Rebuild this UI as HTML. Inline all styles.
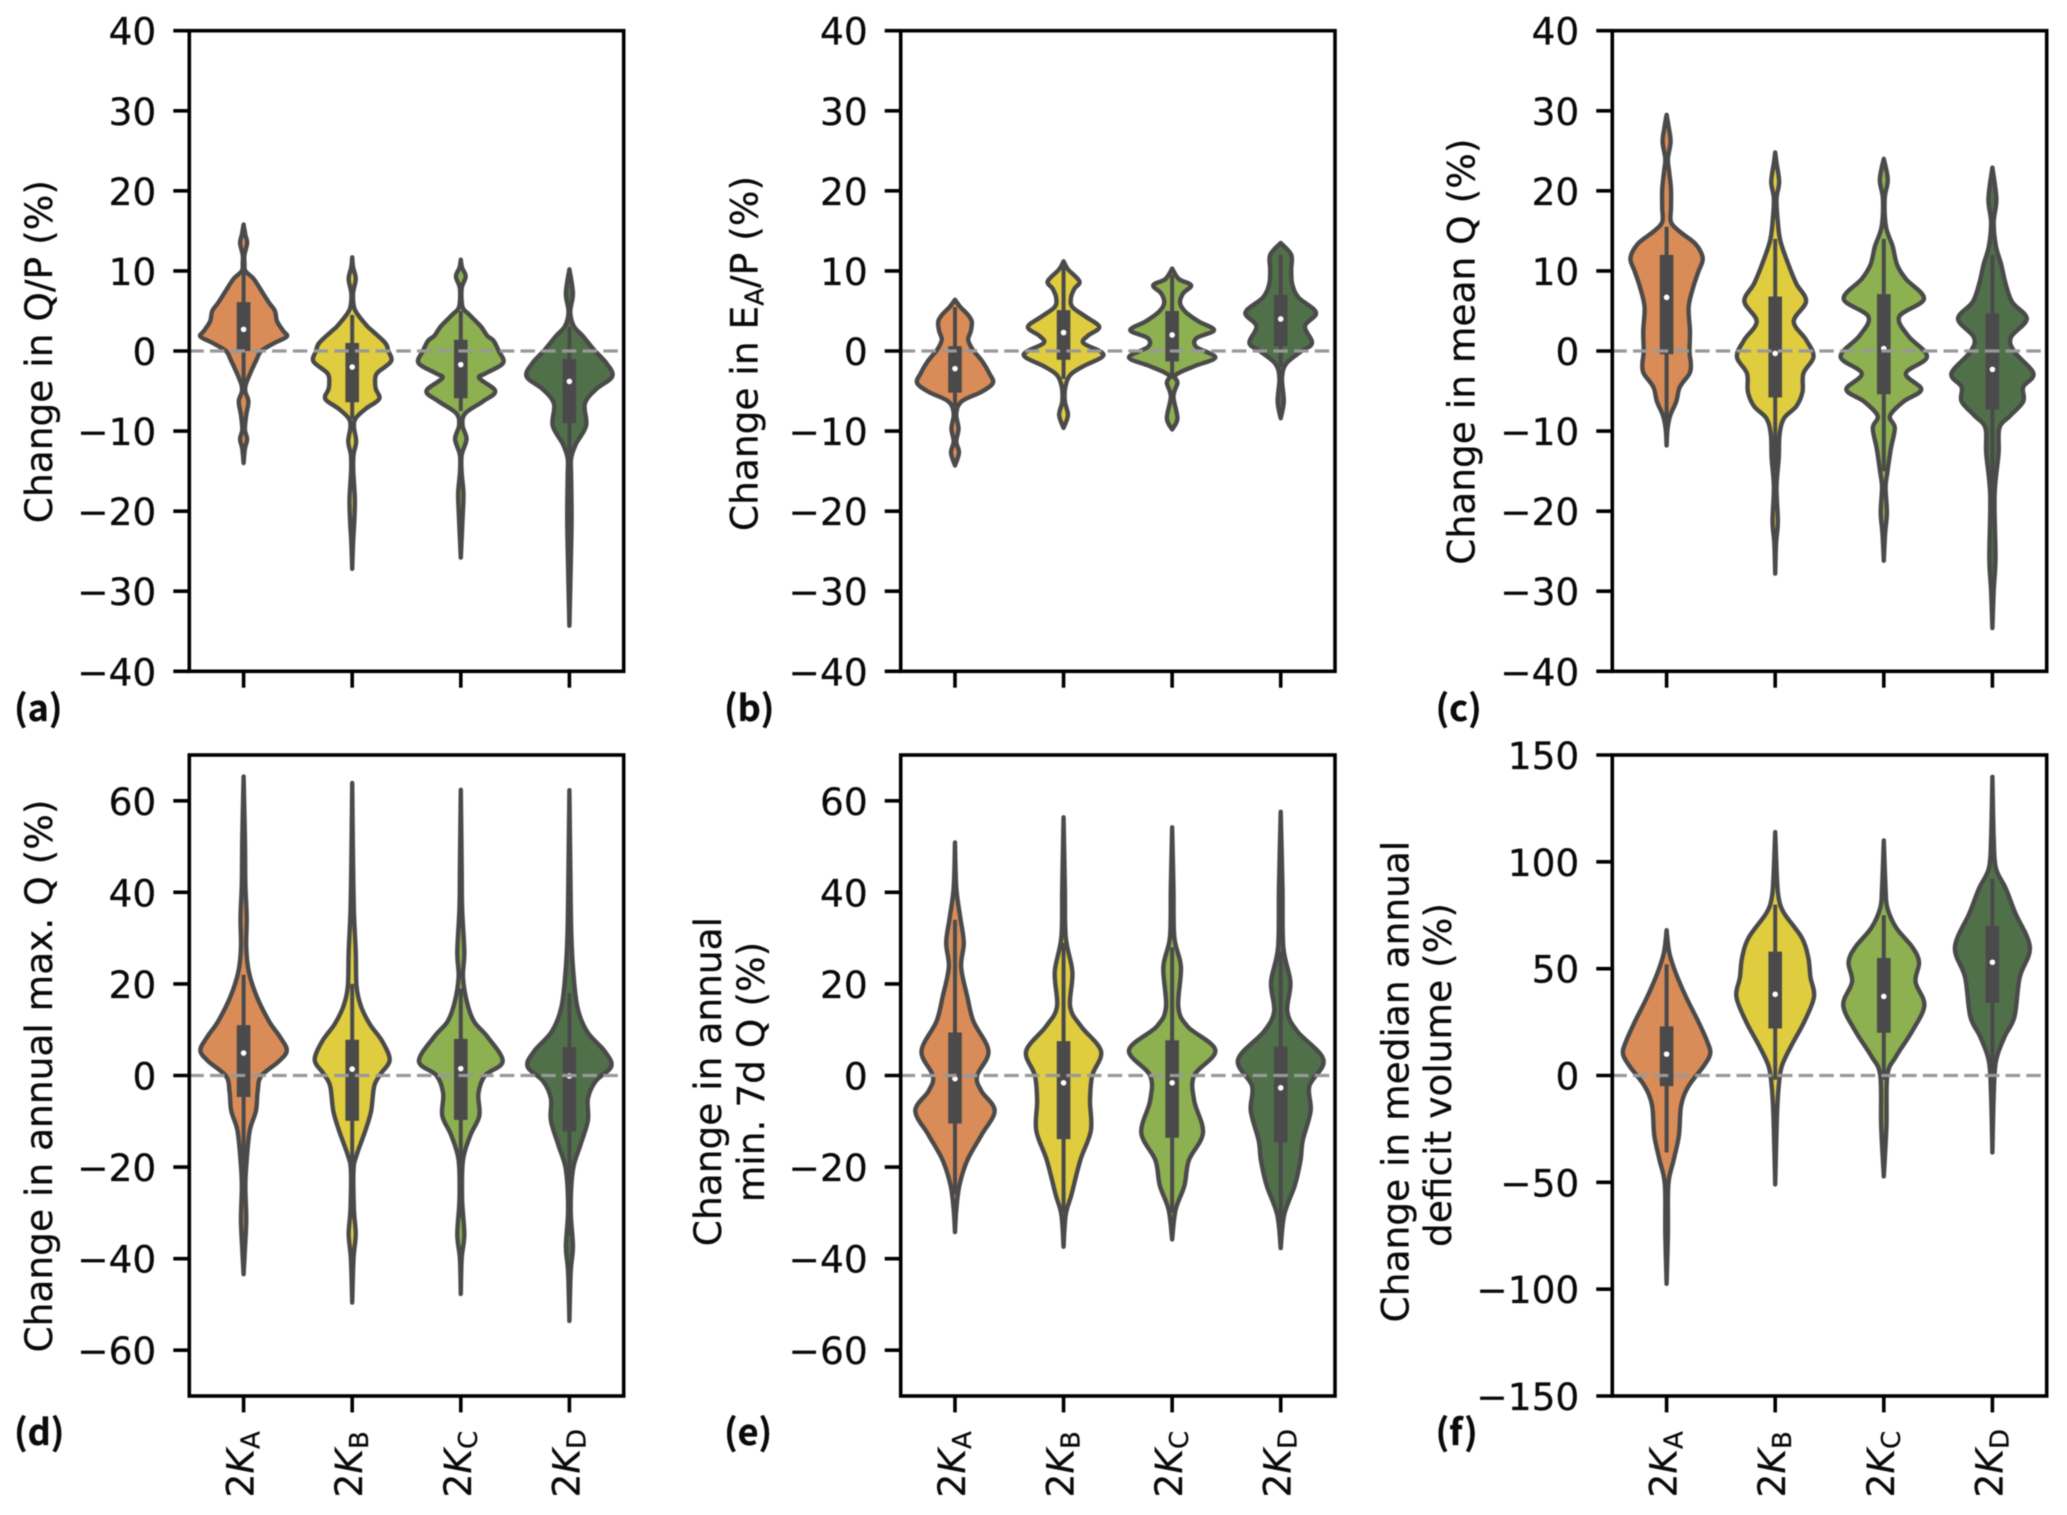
<!DOCTYPE html>
<html lang="en">
<head>
<meta charset="utf-8">
<title>Change in hydrological signatures under 2K scenarios</title>
<style>
html,body{margin:0;padding:0;background:#fff;}
svg{display:block;filter:blur(0.45px);}
text{font-family:"DejaVu Sans","Liberation Sans",sans-serif;fill:#0a0a0a;stroke:#0a0a0a;stroke-width:0.25px;}
.t{font-size:37.5px;}
.p{font-family:"Noto Sans CJK JP","Liberation Sans",sans-serif;font-weight:bold;font-size:36px;}
</style>
</head>
<body>
<svg id="fig" xmlns="http://www.w3.org/2000/svg" width="2067" height="1515" viewBox="0 0 2067 1515">
<rect width="2067" height="1515" fill="#fff"/>
<g id="plots"></g>
<text class="t" text-anchor="middle" transform="translate(52 351.6) rotate(-90)">Change in Q/P (%)</text>
<text class="t" text-anchor="middle" transform="translate(757.3 353.5) rotate(-90)">Change in E<tspan font-size="26" dy="6">A</tspan><tspan dy="-6">/P (%)</tspan></text>
<text class="t" text-anchor="middle" transform="translate(1474.7 351.6) rotate(-90)">Change in mean Q (%)</text>
<text class="t" text-anchor="middle" transform="translate(52 1076) rotate(-90)">Change in annual max. Q (%)</text>
<text class="t" text-anchor="middle" transform="translate(720.8 1081.6) rotate(-90)">Change in annual</text>
<text class="t" text-anchor="middle" transform="translate(764 1072) rotate(-90)">min. 7d Q (%)</text>
<text class="t" text-anchor="middle" transform="translate(1408.7 1081.6) rotate(-90)">Change in median annual</text>
<text class="t" text-anchor="middle" transform="translate(1451 1075) rotate(-90)">deficit volume (%)</text>
<text class="p" x="14" y="721">(a)</text>
<text class="p" x="724" y="721">(b)</text>
<text class="p" x="1435.5" y="721">(c)</text>
<text class="p" x="14" y="1445">(d)</text>
<text class="p" x="724" y="1445">(e)</text>
<text class="p" x="1435.5" y="1445">(f)</text>
</svg>
<script>
// Shared categories and tick labels
const scenarios = ['A', 'B', 'C', 'D'];
const ticksPct40 = [40, 30, 20, 10, 0, -10, -20, -30, -40];
const ticksPct70 = [60, 40, 20, 0, -20, -40, -60];
const ticksPct150 = [150, 100, 50, 0, -50, -100, -150];

// Panel a: Q/P
const qpLevels = [
  [15.8,14.5,13.5,12,11,10,9,7.2,6,5,3.7,2.5,1.8,1,0,-1,-2.8,-4.2,-5.1,-6.3,-8,-9.8,-11,-12.2,-14],
  [11.7,10.5,9,7.2,5.5,4.6,3.1,2.5,1,0,-1.3,-2.8,-4,-4.8,-6,-7.2,-8.4,-9.5,-11.3,-13,-15,-18.4,-21,-24,-27.2],
  [11.4,10.4,9.3,7.8,5.5,4.6,3.1,1.9,1.3,0,-1.5,-2.8,-3.4,-5,-6.3,-7.8,-9.3,-11,-13,-15.2,-17.8,-21,-25.8],
  [10.2,7.2,4.9,3.1,1.9,0.2,-1.6,-3.2,-4.8,-6.6,-9.3,-11.6,-13.4,-15.7,-21,-27,-34.3]
];
const qpDensity = [
  [0,4,8,2,2,4,23,44,58,71,76,90,98,70,40,30,15,5,4,11,6,3,8,3,0],
  [0,2,8,2,4,12,34,46,75,82,88,56,52,54,61,31,8,4,9,3,2.5,6,5,2,0],
  [0,3,11,2,4,18,45,60,74,86,96,56,42,78,50,10,4,13,2,2,6,4,0],
  [0,8,2,10,30,55,85,97,60,35,38,15,4,4,5,3,0]
];
const qpMedian = [2.7, -2, -1.7, -3.8];
const qpQ1 = [0, -6.4, -5.9, -9];
const qpQ3 = [6.1, 1, 1.4, -1];
const qpWhiskerLow = [-5, -8.5, -7.5, -13];
const qpWhiskerHigh = [10, 4.5, 5, 3];

// Panel b: EA/P
const eaLevels = [
  [6.4,5.5,4.6,3.7,2.5,1.4,0.2,-1.3,-2.8,-4,-5.1,-6.3,-7.8,-9.7,-11.3,-12.7,-14.3],
  [11.2,10.2,8.7,7.8,6.7,5.5,4.3,3,1.9,1,-0.1,-0.8,-1.9,-3,-4.5,-6.3,-8,-9.6],
  [10.3,9,8.2,7.2,6,4.9,3.7,2.6,1.6,0.5,-0.8,-1.9,-3,-4,-5.7,-8.4,-9.8],
  [13.5,12,10.2,8.4,6.7,4.8,3.1,1,-0.1,-1.6,-3.4,-6.3,-8.4]
];
const eaDensity = [
  [0,12,28,38,36,30,40,62,78,86,60,15,3,8,3,9,0],
  [0,10,36,25,17,20,50,81,55,45,85,86,45,15,4,3,10,0],
  [0,15,43,25,18,30,60,95,55,55,98,50,8,12,3,12,0],
  [0,24,24,26,40,80,55,71,45,12,3,7,0]
];
const eaMedian = [-2.2, 2.3, 2, 4];
const eaQ1 = [-5.2, -1.1, -1.3, 0.6];
const eaQ3 = [0.6, 5.1, 5, 7];
const eaWhiskerLow = [-7, -3.5, -3.5, -2];
const eaWhiskerHigh = [5.5, 10.5, 9.5, 12];

// Panel c: mean Q
const meanLevels = [
  [29.5,27.9,26.1,24,22.3,20.2,17.9,16.1,14.9,13.4,11.6,9.9,7.9,5.5,2.5,-0.1,-1.6,-2.8,-4.5,-6.3,-8.1,-9.8,-11.8],
  [24.8,23.5,21.1,19,16.1,13.7,10.8,8.4,6.2,3.7,1.4,-0.7,-2.8,-5.1,-6.9,-8.4,-10.4,-13.4,-17,-21.3,-24,-27.8],
  [24,21.4,19,15.5,13.1,10.8,9,6.5,4.3,1.9,-0.7,-2.8,-4.8,-6.3,-8.1,-9.6,-12.2,-15.2,-17,-20.2,-22.8,-26.2],
  [22.9,19,16.1,13.1,10.8,8.4,6.1,4,1.7,-0.1,-2.8,-4.5,-6.3,-8.1,-9.6,-12.8,-18,-25.8,-29.9,-34.6]
];
const meanDensity = [
  [0,5,9,3,6,10,10,10,30,65,82,72,60,50,53,52,55,52,30,22,8,2,0],
  [0,3,9,3,6,12,30,48,70,42,70,87,64,62,48,20,10,8,3,6,2,0],
  [0,9,2,5,20,30,50,91,35,55,98,50,85,45,14,25,16,8,4,7,3,0],
  [0,9,3,8,20,30,45,78,42,50,93,70,70,40,16,14,5,7,3,0]
];
const meanMedian = [6.7, -0.3, 0.3, -2.3];
const meanQ1 = [-0.4, -5.8, -5.4, -7.3];
const meanQ3 = [12, 6.8, 7.1, 4.7];
const meanWhiskerLow = [-9, -15, -15, -18];
const meanWhiskerHigh = [15.5, 14, 14, 12];

// Panel d: annual max Q
const maxLevels = [
  [65.3,51.8,42,34.5,28,22.6,17.2,11.8,8.5,5.5,3.1,-0.1,-3.4,-7.7,-12,-18.5,-24,-31.5,-38,-43.4],
  [63.9,46.4,35.6,27,19.4,15.1,11.2,7.5,3.4,0.4,-2.3,-7.7,-12,-17.4,-20.7,-29.3,-34.7,-40,-49.6],
  [62.4,46,36.6,27,21.5,16,11.8,8.5,3.1,0,-3.9,-8.8,-13,-18.5,-27,-34.7,-40,-47.7],
  [62.3,46,32.3,23.7,15,9.6,5.3,2,-1.2,-5,-9.8,-15.2,-20.6,-29.3,-37.4,-42.8,-53.6]
];
const maxDensity = [
  [0,3,4,7,6,12,30,58,82,98,80,40,32,28,14,7,4,6,3,0],
  [0,2,4,8,10,20,40,68,85,65,50,43,30,10,3,4,8,3,0],
  [0,2,3,8,5,14,30,60,95,55,40,42,22,5,3,8,2,0],
  [0,2,4,8,18,40,80,95,60,42,42,25,8,3,8,3,0]
];
const maxMedian = [4.9, 1.4, 1.5, -0.1];
const maxQ1 = [-4.7, -9.9, -9.7, -12.2];
const maxQ3 = [11, 7.8, 8, 6.2];
const maxWhiskerLow = [-23, -31, -31, -35];
const maxWhiskerHigh = [22, 20, 19, 18];

// Panel e: annual min 7d Q
const minLevels = [
  [50.9,41,34.5,29,23.7,17.2,11.8,5.3,-0.1,-3.4,-7.7,-13,-18.5,-24,-29.3,-34.2],
  [56.4,41,30.2,22.6,15,10.7,5.3,0,-5.5,-12,-18.5,-26,-30.4,-37.4],
  [54.2,41,30.2,23.7,15,10.7,5.5,0,-5.5,-12.5,-18.5,-24,-29.3,-35.8],
  [57.6,41,28,20.4,14,9.6,3.4,-2.3,-7.7,-14.2,-18.5,-24,-30.4,-37.7]
];
const minDensity = [
  [0,3,12,20,14,28,42,76,50,60,90,60,28,10,3,0],
  [0,3,5,20,15,40,85,65,60,62,38,18,5,0],
  [0,3,5,20,14,35,98,50,50,70,38,28,8,0],
  [0,4,6,22,15,38,97,65,68,50,45,32,8,0]
];
const minMedian = [-0.7, -1.6, -1.6, -2.7];
const minQ1 = [-10.5, -13.9, -13.6, -14.6];
const minQ3 = [9.4, 7.5, 7.7, 6.3];
const minWhiskerLow = [-26, -30, -30, -32];
const minWhiskerHigh = [34, 29, 28, 27];

// Panel f: median annual deficit volume
const deficitLevels = [
  [68,57.6,48.4,36.8,25.2,16,10.2,4.4,-4.9,-14,-28,-39.6,-51,-74,-97.5],
  [113.9,92.4,83,76,64.6,55.3,46,36.8,25.2,13.7,4.4,-4.9,-18.8,-51],
  [110,87.7,78.5,69.2,60,53,43.8,32.9,20.6,9,0,-23.4,-47.2],
  [139.8,110.9,97,87.7,76,60,46,27.5,18.3,6.7,-9.5,-36]
];
const deficitDensity = [
  [0,6,20,44,72,92,99,84,50,33,28,16,4,3,0],
  [0,4,8,20,60,75,80,88,66,36,15,8,4,0],
  [0,4,8,28,65,80,72,92,64,28,8,6,0],
  [0,3,8,30,52,85,62,50,28,8,3,0]
];
const deficitMedian = [10, 38, 37, 53];
const deficitQ1 = [-5, 22, 20, 34];
const deficitQ3 = [23, 58, 55, 70];
const deficitWhiskerLow = [-36, -2, -2, 2];
const deficitWhiskerHigh = [52, 80, 75, 92];

// Layout and styling
const fills = ['#d98c57', '#e0cc3f', '#8db050', '#4f7049'];
const edge = '#4a4a4a';
const densityToCategory = 1 / 246.3;
const topRow = { top: 30.7, bottom: 671.3 };
const bottomRow = { top: 755, bottom: 1396 };
const panels = [
  { id: 'a', left: 189.3, right: 623.7, row: topRow, min: -40, max: 40, ticks: ticksPct40, levels: qpLevels, density: qpDensity, median: qpMedian, q1: qpQ1, q3: qpQ3, lo: qpWhiskerLow, hi: qpWhiskerHigh, labels: false },
  { id: 'b', left: 900.7, right: 1335, row: topRow, min: -40, max: 40, ticks: ticksPct40, levels: eaLevels, density: eaDensity, median: eaMedian, q1: eaQ1, q3: eaQ3, lo: eaWhiskerLow, hi: eaWhiskerHigh, labels: false },
  { id: 'c', left: 1612.3, right: 2046.7, row: topRow, min: -40, max: 40, ticks: ticksPct40, levels: meanLevels, density: meanDensity, median: meanMedian, q1: meanQ1, q3: meanQ3, lo: meanWhiskerLow, hi: meanWhiskerHigh, labels: false },
  { id: 'd', left: 189.3, right: 623.7, row: bottomRow, min: -70, max: 70, ticks: ticksPct70, levels: maxLevels, density: maxDensity, median: maxMedian, q1: maxQ1, q3: maxQ3, lo: maxWhiskerLow, hi: maxWhiskerHigh, labels: true },
  { id: 'e', left: 900.7, right: 1335, row: bottomRow, min: -70, max: 70, ticks: ticksPct70, levels: minLevels, density: minDensity, median: minMedian, q1: minQ1, q3: minQ3, lo: minWhiskerLow, hi: minWhiskerHigh, labels: true },
  { id: 'f', left: 1612.3, right: 2046.7, row: bottomRow, min: -150, max: 150, ticks: ticksPct150, levels: deficitLevels, density: deficitDensity, median: deficitMedian, q1: deficitQ1, q3: deficitQ3, lo: deficitWhiskerLow, hi: deficitWhiskerHigh, labels: true }
];

const NS = 'http://www.w3.org/2000/svg';
function make(tag, parent, attrs) {
  const el = document.createElementNS(NS, tag);
  for (const k in attrs) el.setAttribute(k, attrs[k]);
  parent.appendChild(el);
  return el;
}

// Catmull-Rom smoothing through [x, y] points, clamped to stay on the outer side of the centre line
function smoothSegments(pts, cx, sign) {
  let d = '';
  for (let i = 0; i < pts.length - 1; i++) {
    const p0 = pts[Math.max(i - 1, 0)], p1 = pts[i], p2 = pts[i + 1], p3 = pts[Math.min(i + 2, pts.length - 1)];
    let c1x = p1[0] + (p2[0] - p0[0]) / 6, c1y = p1[1] + (p2[1] - p0[1]) / 6;
    let c2x = p2[0] - (p3[0] - p1[0]) / 6, c2y = p2[1] - (p3[1] - p1[1]) / 6;
    if ((c1x - cx) * sign < 0) c1x = cx;
    if ((c2x - cx) * sign < 0) c2x = cx;
    d += ' C' + c1x.toFixed(2) + ' ' + c1y.toFixed(2) + ' ' + c2x.toFixed(2) + ' ' + c2y.toFixed(2) + ' ' + p2[0].toFixed(2) + ' ' + p2[1].toFixed(2);
  }
  return d;
}

const root = document.getElementById('plots');

panels.forEach(function (p) {
  const g = make('g', root, {});
  
  

  const catWidth = (p.right - p.left) / scenarios.length;
  const xScale = function (i) { return p.left + catWidth * (i + 0.5); };
  const yScale = function (v) { return p.row.top + (p.max - v) / (p.max - p.min) * (p.row.bottom - p.row.top); };

  scenarios.forEach(function (name, i) {
    const cx = xScale(i);
    const group = make('g', g, {});
    
    

    const right = p.levels[i].map(function (v, k) { return [cx + p.density[i][k] * densityToCategory * catWidth, yScale(v)]; });
    const left = p.levels[i].map(function (v, k) { return [cx - p.density[i][k] * densityToCategory * catWidth, yScale(v)]; }).reverse();
    const d = 'M' + right[0][0].toFixed(2) + ' ' + right[0][1].toFixed(2) + smoothSegments(right, cx, 1) + smoothSegments(left, cx, -1) + ' Z';
    const body = make('path', group, { d: d, fill: fills[i], stroke: edge, 'stroke-width': 4.4, 'stroke-linejoin': 'round' });
    
    

    const whisker = make('line', group, { x1: cx, x2: cx, y1: yScale(p.hi[i]), y2: yScale(p.lo[i]), stroke: edge, 'stroke-width': 4 });
    
    

    const box = make('rect', group, { x: cx - 6.8, width: 13.6, y: yScale(p.q3[i]), height: yScale(p.q1[i]) - yScale(p.q3[i]), fill: edge });
    
    

    const med = make('circle', group, { cx: cx, cy: yScale(p.median[i]), r: 2.8, fill: '#fff' });
    
    
  });

  const zero = make('line', g, { x1: p.left, x2: p.right, y1: yScale(0), y2: yScale(0), stroke: '#999', 'stroke-width': 3.3, 'stroke-dasharray': '14.5 6.2' });
  
  

  p.ticks.forEach(function (v) {
    const y = yScale(v);
    const tick = make('line', g, { x1: p.left - 16, x2: p.left, y1: y, y2: y, stroke: '#000', 'stroke-width': 3.6 });
    
    
    const label = make('text', g, { x: p.left - 33, y: y + 14, 'text-anchor': 'end', 'font-size': 37.5 });
    label.textContent = (v < 0 ? '\u2212' + Math.abs(v) : String(v));
    
    
  });

  scenarios.forEach(function (name, i) {
    const x = xScale(i);
    const tick = make('line', g, { x1: x, x2: x, y1: p.row.bottom, y2: p.row.bottom + 16.4, stroke: '#000', 'stroke-width': 3.6 });
    
    
    if (p.labels) {
      const label = make('text', g, { transform: 'translate(' + (x + 10) + ' ' + (p.row.bottom + 101.5) + ') rotate(-90)', 'font-size': 37.5 });
      
      
      const two = make('tspan', label, {});
      two.textContent = '2';
      const k = make('tspan', label, { 'font-style': 'italic' });
      k.textContent = 'K';
      const sub = make('tspan', label, { 'font-size': 26, dy: 6 });
      sub.textContent = name;
    }
  });

  const frame = make('rect', g, { x: p.left, y: p.row.top, width: p.right - p.left, height: p.row.bottom - p.row.top, fill: 'none', stroke: '#000', 'stroke-width': 3.6 });
  
  
});
</script>
</body>
</html>
